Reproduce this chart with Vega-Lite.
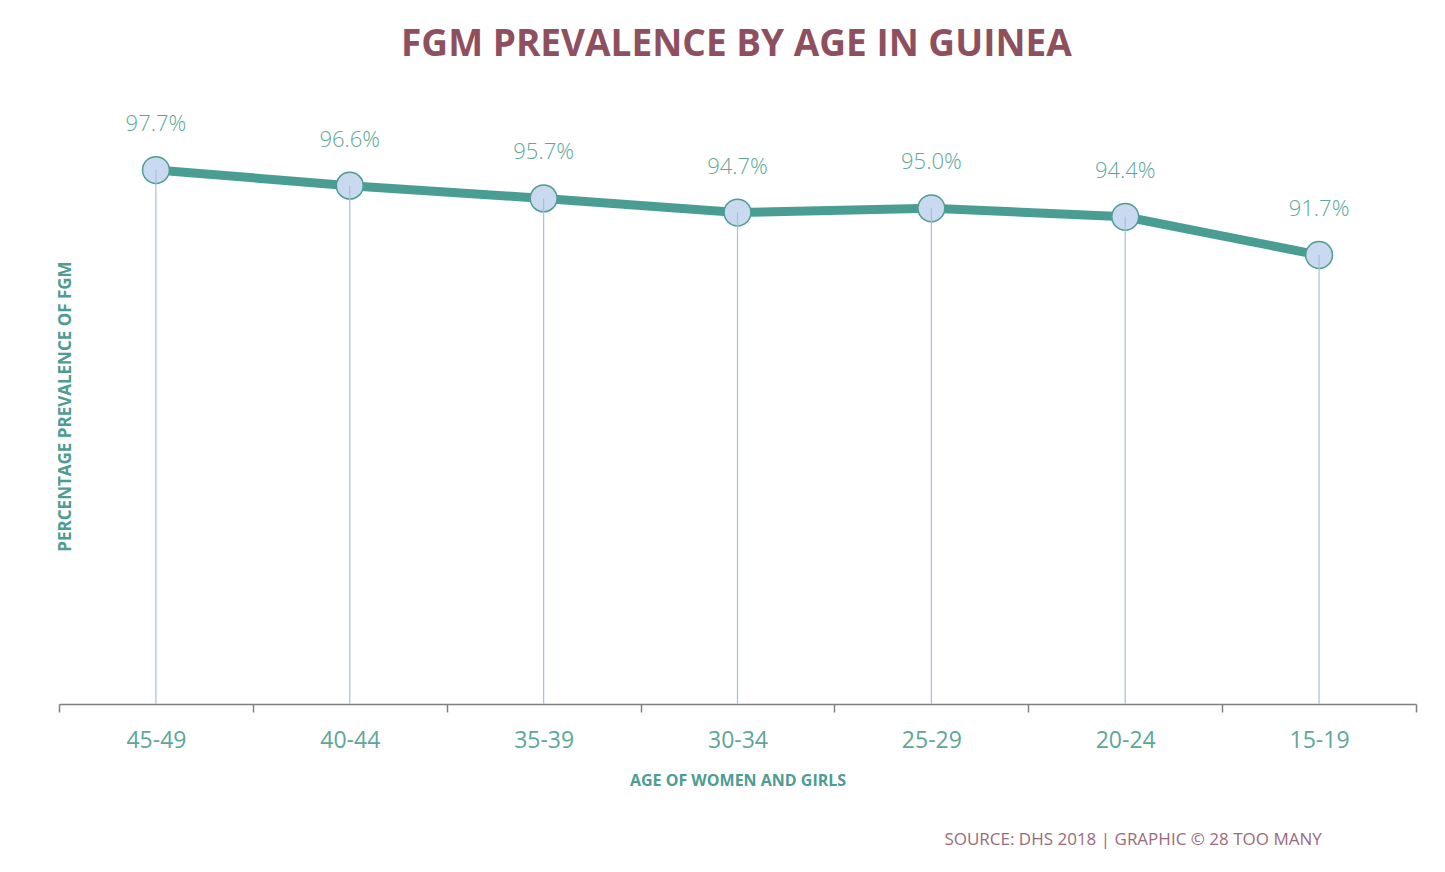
{
  "$schema": "https://vega.github.io/schema/vega-lite/v6.json",
  "background": "#ffffff",
  "padding": {"left": 56, "top": 26, "right": 28, "bottom": 10},
  "title": {
    "text": "FGM PREVALENCE BY AGE IN GUINEA",
    "font": "Open Sans",
    "fontSize": 37,
    "fontWeight": "bold",
    "color": "#8e4f5f",
    "anchor": "middle",
    "offset": 31
  },
  "config": {
    "view": {"stroke": null},
    "font": "Open Sans"
  },
  "vconcat": [
    {
      "width": 1357,
      "height": 609,
      "title": {
        "text": "SOURCE: DHS 2018 | GRAPHIC © 28 TOO MANY",
        "orient": "bottom",
        "anchor": "end",
        "font": "Open Sans",
        "fontSize": 17,
        "fontWeight": "normal",
        "color": "#9a6b78",
        "dx": -95,
        "offset": 44
      },
      "data": {
        "values": [
          {"age": "45-49", "pct": 97.7, "label": "97.7%"},
          {"age": "40-44", "pct": 96.6, "label": "96.6%"},
          {"age": "35-39", "pct": 95.7, "label": "95.7%"},
          {"age": "30-34", "pct": 94.7, "label": "94.7%"},
          {"age": "25-29", "pct": 95.0, "label": "95.0%"},
          {"age": "20-24", "pct": 94.4, "label": "94.4%"},
          {"age": "15-19", "pct": 91.7, "label": "91.7%"}
        ]
      },
      "encoding": {
        "x": {
          "field": "age",
          "type": "ordinal",
          "sort": null,
          "scale": {"paddingInner": 0, "paddingOuter": 0},
          "axis": {
            "title": "AGE OF WOMEN AND GIRLS",
            "titleFont": "Open Sans",
            "titleFontSize": 16,
            "titleFontWeight": "bold",
            "titleColor": "#4e9c92",
            "titlePadding": 20,
            "labelFont": "Open Sans",
            "labelFontSize": 23,
            "labelColor": "#5ea69a",
            "labelPadding": 17,
            "labelAngle": 0,
            "tickBand": "extent",
            "tickSize": 8,
            "tickColor": "#808080",
            "tickWidth": 1.5,
            "domainColor": "#808080",
            "domainWidth": 1.5,
            "grid": false
          }
        },
        "y": {
          "field": "pct",
          "type": "quantitative",
          "scale": {"domain": [60, 103], "nice": false, "zero": false},
          "axis": {
            "title": "PERCENTAGE PREVALENCE OF FGM",
            "titleFont": "Open Sans",
            "titleFontSize": 17,
            "titleFontWeight": "bold",
            "titleColor": "#4e9c92",
            "titleAngle": -90,
            "titleX": 15,
            "titleY": 311,
            "titleAlign": "center",
            "titleBaseline": "bottom",
            "domain": false,
            "ticks": false,
            "labels": false,
            "grid": false
          }
        }
      },
      "layer": [
        {
          "mark": {"type": "line", "color": "#4a9d93", "strokeWidth": 9},
          "encoding": {}
        },
        {
          "mark": {
            "type": "point",
            "shape": "circle",
            "size": 720,
            "filled": true,
            "fill": "#c9d9f0",
            "fillOpacity": 1,
            "stroke": "#4f9c92",
            "strokeWidth": 1.5
          }
        },
        {
          "mark": {"type": "rule", "color": "#a8bedb", "strokeWidth": 1.2},
          "encoding": {"y2": {"datum": 60}}
        },
        {
          "mark": {
            "type": "text",
            "dy": -46,
            "baseline": "middle",
            "font": "Open Sans",
            "fontSize": 22,
            "fontWeight": 300,
            "color": "#5da89b"
          },
          "encoding": {
            "text": {"field": "label", "type": "nominal"}
          }
        }
      ]
    }
  ]
}
